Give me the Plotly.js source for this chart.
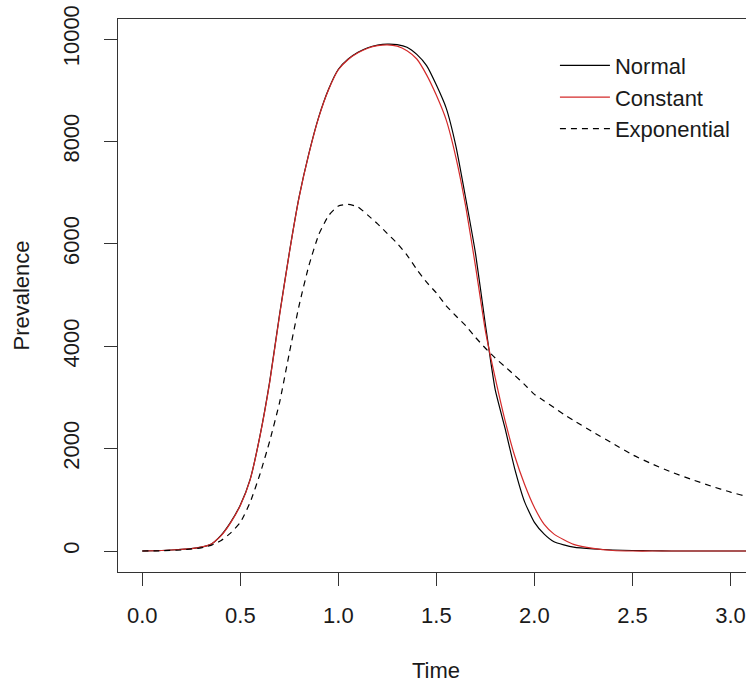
<!DOCTYPE html>
<html>
<head>
<meta charset="utf-8">
<script src="https://cdn.plot.ly/plotly-3.0.1.min.js"></script>
<style>
html, body { margin: 0; padding: 0; overflow: hidden; background: #ffffff; }
#chart { width: 754px; height: 683px; }
</style>
</head>
<body>
<div id="chart"></div>
<script>
// Time grid (shared by the three series)
const time = [0, 0.1, 0.2, 0.25, 0.3, 0.35, 0.4, 0.45, 0.5, 0.55, 0.6, 0.65, 0.7, 0.75, 0.8, 0.85, 0.9, 0.95,
  1.0, 1.05, 1.1, 1.15, 1.2, 1.25, 1.3, 1.35, 1.4, 1.45, 1.5, 1.55, 1.6, 1.65, 1.7, 1.75, 1.8, 1.85, 1.9, 1.95,
  2.0, 2.05, 2.1, 2.15, 2.2, 2.3, 2.4, 2.5, 2.6, 2.7, 2.8, 2.9, 3.0, 3.1, 3.15];

const normal = [0, 10, 30, 45, 75, 130, 300, 560, 900, 1400, 2250, 3320, 4620, 5830, 6920, 7770, 8480, 9020,
  9410, 9610, 9740, 9830, 9880, 9900, 9890, 9840, 9700, 9480, 9100, 8650, 7900, 6880, 5800, 4420, 3150, 2400, 1600, 960,
  560, 330, 180, 120, 75, 40, 20, 10, 5, 0, 0, 0, 0, 0, 0];

const constant = [0, 10, 30, 45, 75, 130, 290, 550, 890, 1390, 2240, 3300, 4600, 5820, 6910, 7760, 8470, 9010,
  9400, 9600, 9730, 9820, 9870, 9885, 9860, 9770, 9610, 9300, 8900, 8420, 7680, 6720, 5550, 4300, 3380, 2550, 1850, 1300,
  850, 520, 330, 220, 130, 50, 10, 0, 0, 0, 0, 0, 0, 0, 0];

const exponential = [0, 5, 20, 40, 60, 110, 200, 350, 560, 950, 1500, 2150, 2900, 3870, 4800, 5580, 6180, 6550,
  6740, 6770, 6720, 6560, 6390, 6200, 6010, 5780, 5500, 5250, 5040, 4790, 4590, 4400, 4170, 3960, 3770, 3600, 3430, 3250,
  3060, 2930, 2800, 2670, 2550, 2320, 2100, 1880, 1700, 1540, 1400, 1270, 1150, 1050, 1010];

const seriesNames = ['Normal', 'Constant', 'Exponential'];
const xTickVals = [0, 0.5, 1.0, 1.5, 2.0, 2.5, 3.0];
const yTickVals = [0, 2000, 4000, 6000, 8000, 10000];

const font = 'Liberation Sans, Arial, sans-serif';
const ink = '#1a1a1a';

const traces = [
  { x: time, y: normal, name: seriesNames[0], type: 'scatter', mode: 'lines',
    line: { color: '#000000', width: 1.2, shape: 'spline', smoothing: 0.5 } },
  { x: time, y: constant, name: seriesNames[1], type: 'scatter', mode: 'lines',
    line: { color: '#d42a2a', width: 1.2, shape: 'spline', smoothing: 0.5 } },
  { x: time, y: exponential, name: seriesNames[2], type: 'scatter', mode: 'lines',
    line: { color: '#000000', width: 1.2, dash: '6px,5px', shape: 'spline', smoothing: 0.5 } }
];

const layout = {
  width: 754, height: 683,
  margin: { l: 118, r: 0, t: 19, b: 111 },
  paper_bgcolor: '#ffffff', plot_bgcolor: '#ffffff',
  font: { family: font, size: 22, color: ink },
  showlegend: true,
  legend: {
    x: 0.687, y: 0.9536, xanchor: 'left', yanchor: 'top',
    bgcolor: 'rgba(0,0,0,0)', borderwidth: 0,
    font: { family: font, size: 22, color: ink },
    itemwidth: 50, tracegroupgap: 0
  },
  xaxis: {
    range: [-0.124, 3.12], autorange: false,
    tickmode: 'array', tickvals: xTickVals, tickformat: '.1f',
    ticks: 'outside', ticklen: 13, tickwidth: 1, tickcolor: '#333',
    showline: true, linecolor: '#333', linewidth: 1.3, mirror: true,
    showgrid: false, zeroline: false,
    ticklabelstandoff: 10,
    tickfont: { family: font, size: 22, color: ink },
    title: { text: 'Time', font: { family: font, size: 22, color: ink }, standoff: 38 },
    automargin: false
  },
  yaxis: {
    range: [-410, 10391], autorange: false,
    tickmode: 'array', tickvals: yTickVals, tickformat: 'd',
    ticks: 'outside', ticklen: 13, tickwidth: 1, tickcolor: '#333',
    showline: true, linecolor: '#333', linewidth: 1.3, mirror: true,
    showgrid: false, zeroline: false,
    tickangle: -90,
    ticklabelstandoff: 16,
    tickfont: { family: font, size: 22, color: ink },
    title: { text: 'Prevalence', font: { family: font, size: 22, color: ink }, standoff: 23 },
    automargin: false
  }
};

Plotly.newPlot('chart', traces, layout, { staticPlot: true, displayModeBar: false });
</script>
</body>
</html>
